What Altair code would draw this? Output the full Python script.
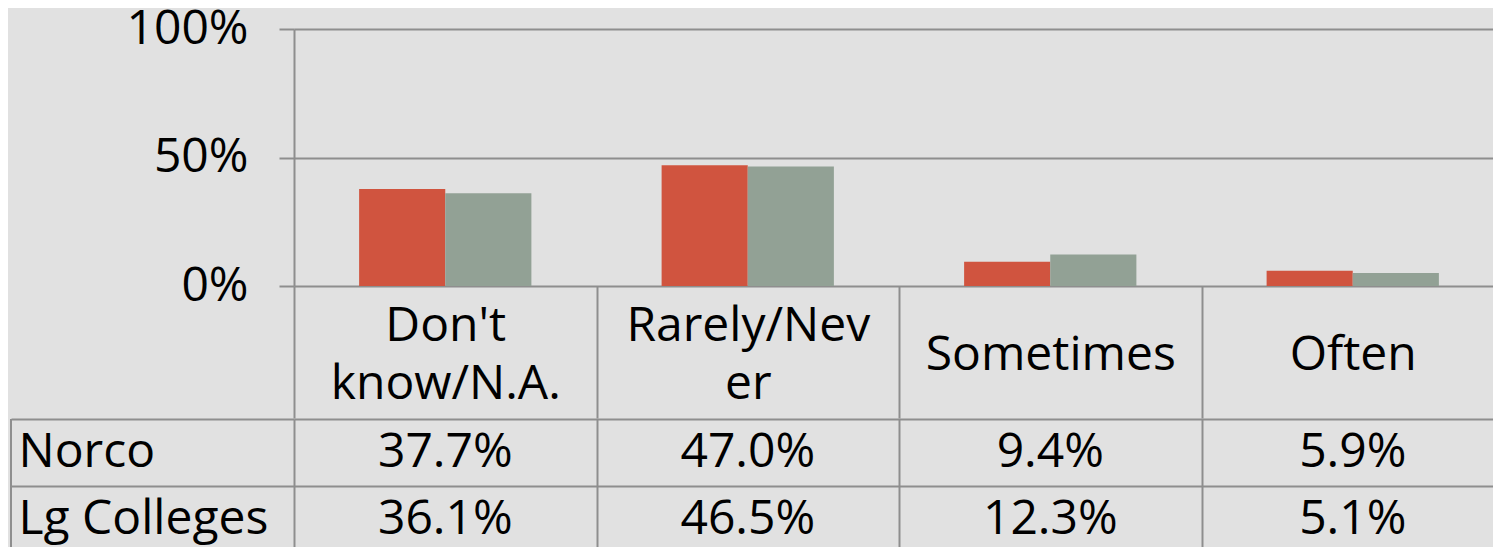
import json
import altair as alt
import pandas as pd

# ---- data ----
categories = ["Don't know/N.A.", "Rarely/Never", "Sometimes", "Often"]
header_lines = [["Don't", "know/N.A."], ["Rarely/Nev", "er"], ["Sometimes"], ["Often"]]
series = ["Norco", "Lg Colleges"]
norco = [37.7, 47.0, 9.4, 5.9]
lg_colleges = [36.1, 46.5, 12.3, 5.1]
y_ticks = [0, 50, 100]
colors = ["#D0543F", "#92A195"]

rows = []
for s, vals in zip(series, [norco, lg_colleges]):
    for c, v in zip(categories, vals):
        rows.append({"category": c, "series": s, "value": v})
df = pd.DataFrame(rows)

FONT = "Open Sans"
FS = 48
LINE = "#8E8E8E"
LW = 2
STEP = 302.5
W = STEP * 4
H = 257
HEADER_H = 132
ROW_H = 67
LEFT_EXT = 283
LH = 58

label_map = json.dumps(dict(zip(categories, header_lines)))
multi_line = json.dumps([c for c, l in zip(categories, header_lines) if len(l) > 1])

bars = alt.Chart(df).mark_bar().encode(
    x=alt.X(
        "category:N", sort=categories,
        scale=alt.Scale(paddingInner=0, paddingOuter=0),
        axis=alt.Axis(
            title=None, orient="bottom", domain=False, grid=False, ticks=True,
            tickBand="extent", tickSize=HEADER_H, tickColor=LINE, tickWidth=LW,
            labelAngle=0, labelFont=FONT, labelFontSize=FS, labelColor="black",
            labelBaseline={"condition": {"test": f"indexof({multi_line}, datum.value) >= 0",
                                         "value": "line-bottom"},
                           "value": "middle"},
            labelPadding=-HEADER_H / 2 + 3, labelLineHeight=LH,
            labelLimit=0, labelOverlap=False,
            labelExpr=f"{label_map}[datum.label]",
        ),
    ),
    xOffset=alt.XOffset("series:N", sort=series,
                        scale=alt.Scale(paddingInner=0, paddingOuter=0.756)),
    y=alt.Y(
        "value:Q", scale=alt.Scale(domain=[0, 100]),
        axis=alt.Axis(
            values=y_ticks, title=None, grid=True, gridColor=LINE, gridWidth=LW,
            tickSize=15, tickColor=LINE, tickWidth=LW, domainColor=LINE, domainWidth=LW,
            labelFont=FONT, labelFontSize=FS, labelColor="black", labelPadding=31,
            labelExpr="datum.value + '%'",
        ),
    ),
    color=alt.Color("series:N", sort=series,
                    scale=alt.Scale(domain=series, range=colors), legend=None),
).properties(width=W, height=H)

table_text = alt.Chart(df).transform_calculate(
    label="format(datum.value, '.1f') + '%'"
).mark_text(font=FONT, fontSize=FS, color="black", align="center", baseline="middle").encode(
    x=alt.X(
        "category:N", sort=categories,
        scale=alt.Scale(paddingInner=0, paddingOuter=0),
        axis=alt.Axis(title=None, labels=False, ticks=False, domain=False, grid=True,
                      tickBand="extent", gridColor=LINE, gridWidth=LW),
    ),
    y=alt.Y(
        "series:N", sort=series,
        scale=alt.Scale(paddingInner=0, paddingOuter=0),
        axis=alt.Axis(title=None, domain=False, grid=True, tickBand="extent",
                      gridColor=LINE, gridWidth=LW, ticks=True, tickSize=LEFT_EXT,
                      tickColor=LINE, tickWidth=LW, labelAlign="left", labelPadding=-7,
                      labelFont=FONT, labelFontSize=FS, labelColor="black",
                      labelBaseline="middle", labelLimit=0),
    ),
    text="label:N",
)

table_border = alt.Chart(df).mark_rule(color=LINE, strokeWidth=LW).encode(
    x=alt.value(-LEFT_EXT), y=alt.value(0), y2=alt.value(2 * ROW_H)
)

table = alt.layer(table_text, table_border).properties(width=W, height=2 * ROW_H)

chart = alt.vconcat(bars, table, spacing=-25).properties(
    padding={"left": 2, "right": -12, "top": -3, "bottom": 0}
).configure(background="#E1E1E1").configure_view(stroke=None)

chart.save("out.html", embed_options={"renderer": "svg", "actions": False})
